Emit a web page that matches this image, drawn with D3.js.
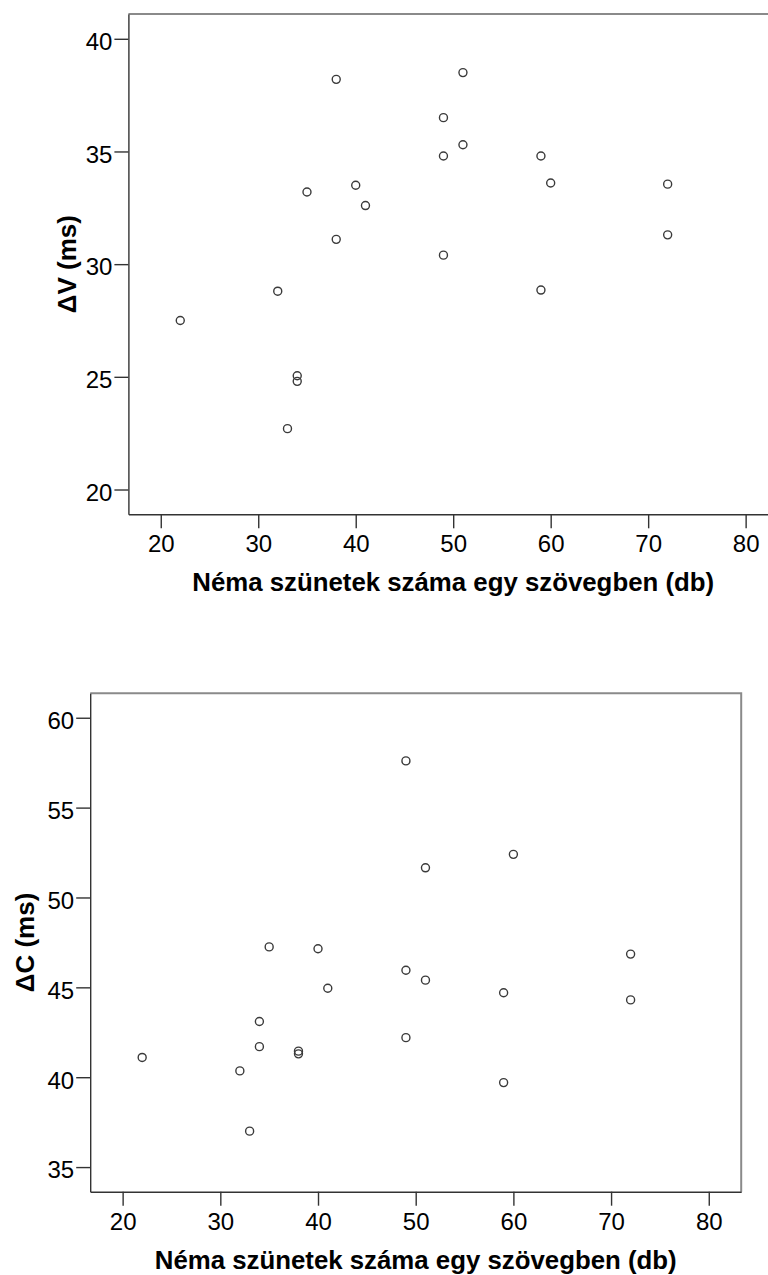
<!DOCTYPE html>
<html>
<head>
<meta charset="utf-8">
<script src="https://cdn.jsdelivr.net/npm/d3@7"></script>
<style>
  html, body { margin: 0; padding: 0; background: #fff; }
  svg { display: block; }
  text { font-family: "Liberation Sans", Arial, Helvetica, sans-serif; }
</style>
</head>
<body>
<svg id="chart" width="768" height="1275"></svg>
<script>
// Silent pauses per text (x) against two duration measures (ΔV and ΔC)
const pauseCounts = [22, 32, 33, 34, 34, 35, 38, 38, 40, 41, 49, 49, 49, 51, 51, 59, 59, 60, 72, 72];
const deltaV = [27.5, 28.8, 22.7, 25.05, 24.8, 33.2, 38.2, 31.1, 33.5, 32.6, 36.5, 34.8, 30.4, 38.5, 35.3, 34.8, 28.85, 33.6, 33.55, 31.3];
const deltaC = [41.1, 40.35, 37.0, 43.1, 41.7, 47.25, 41.45, 41.3, 47.15, 44.95, 57.6, 45.95, 42.2, 51.65, 45.4, 44.7, 39.7, 52.4, 46.85, 44.3];

const xTicks = [20, 30, 40, 50, 60, 70, 80];
const yTicksV = [20, 25, 30, 35, 40];
const yTicksC = [35, 40, 45, 50, 55, 60];

const xTitle = "Néma szünetek száma egy szövegben (db)";
const yTitleV = "ΔV (ms)";
const yTitleC = "ΔC (ms)";

const xDomain = [16.68, 83.32];
const yDomainV = [18.9, 41.1];
const yDomainC = [33.63, 61.36];

const svg = d3.select("#chart");

function drawPanel(cfg) {
  const { left, top, width, height, yDomain, yTicks, ys, yTitle, yTitleOffset } = cfg;
  const g = svg.append("g").attr("transform", `translate(${left},${top})`);

  const x = d3.scaleLinear().domain(xDomain).range([0, width]);
  const y = d3.scaleLinear().domain(yDomain).range([height, 0]);

  // top and right edges of the frame
  g.append("path")
    .attr("d", `M0,0H${width}V${height}`)
    .attr("fill", "none")
    .attr("stroke", "#8a8a8a")
    .attr("stroke-width", 2);

  // left axis
  const yAxis = g.append("g")
    .call(d3.axisLeft(y).tickValues(yTicks).tickSize(14).tickSizeOuter(0).tickPadding(2));
  yAxis.select(".domain").attr("stroke", "#333").attr("stroke-width", 1.4);
  yAxis.selectAll(".tick line").attr("stroke", "#333").attr("stroke-width", 1.4);
  yAxis.selectAll(".tick text")
    .attr("font-size", 24)
    .attr("font-family", "Liberation Sans, Arial, sans-serif")
    .attr("fill", "#000")
    .attr("x", -16)
    .attr("dy", "0.45em");

  // bottom axis
  const xAxis = g.append("g")
    .attr("transform", `translate(0,${height})`)
    .call(d3.axisBottom(x).tickValues(xTicks).tickSize(14).tickSizeOuter(0));
  xAxis.select(".domain").attr("stroke", "#333").attr("stroke-width", 1.4);
  xAxis.selectAll(".tick line").attr("stroke", "#333").attr("stroke-width", 1.4);
  xAxis.selectAll(".tick text")
    .attr("font-size", 24)
    .attr("font-family", "Liberation Sans, Arial, sans-serif")
    .attr("fill", "#000")
    .attr("y", 38)
    .attr("dy", 0);

  // points
  g.append("g").selectAll("circle")
    .data(pauseCounts.map((v, i) => [v, ys[i]]))
    .join("circle")
    .attr("cx", d => x(d[0]))
    .attr("cy", d => y(d[1]))
    .attr("r", 4)
    .attr("fill", "none")
    .attr("stroke", "#3a3a3a")
    .attr("stroke-width", 1.4);

  // axis titles
  g.append("text")
    .attr("x", width / 2)
    .attr("y", height + 77)
    .attr("text-anchor", "middle")
    .attr("font-size", 25.8)
    .attr("font-weight", "bold")
    .attr("fill", "#000")
    .text(xTitle);

  g.append("text")
    .attr("transform", `translate(${yTitleOffset},${height / 2}) rotate(-90)`)
    .attr("text-anchor", "middle")
    .attr("font-size", 26)
    .attr("font-weight", "bold")
    .attr("fill", "#000")
    .text(yTitle);
}

drawPanel({ left: 128.4, top: 14, width: 649.6, height: 500.3,
            yDomain: yDomainV, yTicks: yTicksV, ys: deltaV, yTitle: yTitleV, yTitleOffset: -52 });
drawPanel({ left: 90.2, top: 693.3, width: 651, height: 498.4,
            yDomain: yDomainC, yTicks: yTicksC, ys: deltaC, yTitle: yTitleC, yTitleOffset: -56 });
</script>
</body>
</html>
